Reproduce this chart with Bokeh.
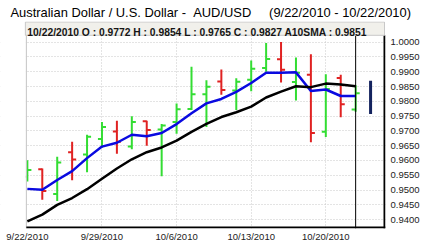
from bokeh.plotting import figure
from bokeh.models import Label, FixedTicker, Range1d, ColumnDataSource, PrintfTickFormatter
from bokeh.embed import file_html
from bokeh.resources import INLINE

# ---- data ----
dates = ["9/22/2010", "9/23/2010", "9/24/2010", "9/27/2010", "9/28/2010", "9/29/2010",
         "9/30/2010", "10/1/2010", "10/4/2010", "10/5/2010", "10/6/2010", "10/7/2010",
         "10/8/2010", "10/11/2010", "10/12/2010", "10/13/2010", "10/14/2010", "10/15/2010",
         "10/18/2010", "10/19/2010", "10/20/2010", "10/21/2010", "10/22/2010"]
opens  = [0.9545, 0.9570, 0.9487, 0.9628, 0.9620, 0.9673, 0.9698, 0.9647, 0.9733, 0.9705,
          0.9730, 0.9774, 0.9824, 0.9867, 0.9837, 0.9873, 0.9913, 0.9942, 0.9865, 0.9890,
          0.9697, 0.9879, 0.9772]
highs  = [0.9601, 0.9573, 0.9613, 0.9663, 0.9687, 0.9730, 0.9734, 0.9750, 0.9734, 0.9723,
          0.9793, 0.9917, 0.9871, 0.9908, 0.9878, 0.9938, 0.9997, 1.0001, 0.9948, 0.9959,
          0.9892, 0.9890, 0.9854]
lows   = [0.9529, 0.9467, 0.9463, 0.9533, 0.9560, 0.9643, 0.9623, 0.9638, 0.9650, 0.9547,
          0.9690, 0.9771, 0.9713, 0.9822, 0.9771, 0.9834, 0.9900, 0.9864, 0.9803, 0.9662,
          0.9679, 0.9746, 0.9765]
closes = [0.9568, 0.9497, 0.9593, 0.9603, 0.9680, 0.9713, 0.9663, 0.9730, 0.9703, 0.9718,
          0.9773, 0.9824, 0.9849, 0.9838, 0.9866, 0.9910, 0.9943, 0.9907, 0.9897, 0.9693,
          0.9842, 0.9790, 0.9827]
sma10  = [0.9394, 0.9417, 0.9450, 0.9473, 0.9503, 0.9538, 0.9573, 0.9604, 0.9628, 0.9644,
          0.9667, 0.9697, 0.9724, 0.9747, 0.9763, 0.9782, 0.9813, 0.9833, 0.9851, 0.9848,
          0.9860, 0.9857, 0.9851]
blue_ma = [0.9504, 0.9501, 0.9534, 0.9564, 0.9608, 0.9647, 0.9660, 0.9687, 0.9682, 0.9693,
           0.9723, 0.9760, 0.9793, 0.9808, 0.9832, 0.9862, 0.9897, 0.9897, 0.9898, 0.9835,
           0.9840, 0.9818, 0.9818]
marker_top, marker_bottom = 0.9870, 0.9757
x_tick_idx = [0, 5, 10, 15, 20]
x_tick_labels = ["9/22/2010", "9/29/2010", "10/6/2010", "10/13/2010", "10/20/2010"]
y_ticks = [0.9400, 0.9450, 0.9500, 0.9550, 0.9600, 0.9650, 0.9700,
           0.9750, 0.9800, 0.9850, 0.9900, 0.9950, 1.0000]
NB = "\u00a0"
title_text = ("Australian Dollar / U.S. Dollar -" + NB + NB + "AUD/USD" + NB * 5
              + "(9/22/2010 - 10/22/2010)")
header = "10/22/2010 O : 0.9772 H : 0.9854 L : 0.9765 C : 0.9827 A10SMA : 0.9851"

# ---- layout helpers (pixel -> data) ----
PX_X = 15.0      # pixels per bar
PX_Y = 3000.0    # pixels per price unit
def dx(px):
    return (px - 27) / PX_X
def dy(py):
    return 1.0 - (py - 42) / PX_Y

W, H = 422, 244
FR_TOP, FR_RIGHT, FR_BOTTOM = 21, 387, 231
x0, x1 = dx(0), dx(FR_RIGHT)
y0, y1 = dy(FR_BOTTOM), dy(FR_TOP)

p = figure(width=W, height=H, output_backend="svg", toolbar_location=None,
           x_range=Range1d(x0, x1), y_range=Range1d(y0, y1), y_axis_location="right",
           min_border_left=0, min_border_right=W - FR_RIGHT, min_border_top=FR_TOP,
           min_border_bottom=H - FR_BOTTOM, title=title_text)
p.background_fill_color = "white"
p.border_fill_color = "white"
p.outline_line_color = None

p.title.align = "left"
p.title.offset = 10
p.title.standoff = 3
p.title.text_font = "Liberation Sans"
p.title.text_font_size = "12.9px"
p.title.text_font_style = "normal"
p.title.text_color = "black"

p.xaxis.ticker = FixedTicker(ticks=x_tick_idx)
p.xaxis.major_label_overrides = {i: l for i, l in zip(x_tick_idx, x_tick_labels)}
p.xaxis.axis_line_color = None
p.xaxis.major_tick_out = 0
p.xaxis.major_tick_in = 0
p.xaxis.minor_tick_line_color = None
p.xaxis.major_label_standoff = 2
p.xaxis.major_label_text_font = "Liberation Sans"
p.xaxis.major_label_text_font_size = "9.5px"
p.xaxis.major_label_text_color = "#222222"

p.yaxis.ticker = FixedTicker(ticks=y_ticks)
p.yaxis.formatter = PrintfTickFormatter(format="%.4f")
p.yaxis.axis_line_color = None
p.yaxis.major_tick_out = 0
p.yaxis.major_tick_in = 0
p.yaxis.minor_tick_line_color = None
p.yaxis.major_label_standoff = 5
p.yaxis.major_label_text_font = "Liberation Sans"
p.yaxis.major_label_text_font_size = "9.5px"
p.yaxis.major_label_text_color = "#222222"

p.xgrid.ticker = FixedTicker(ticks=x_tick_idx[1:])
for g in (p.xgrid, p.ygrid):
    g.grid_line_color = "#c8c8c8"
    g.grid_line_dash = "1 2"
    g.grid_line_width = 1

# ---- OHLC bars ----
xs = list(range(len(dates)))
colors = ["#33dd33" if c >= o else "#e02222" for o, c in zip(opens, closes)]
src = ColumnDataSource(dict(
    x=xs, xl=[x - 0.27 for x in xs], xr=[x + 0.27 for x in xs],
    o=opens, h=highs, l=lows, c=closes, color=colors))
p.segment(x0="x", x1="x", y0="l", y1="h", line_color="color", line_width=2, source=src)
p.segment(x0="xl", x1="x", y0="o", y1="o", line_color="color", line_width=2, source=src)
p.segment(x0="x", x1="xr", y0="c", y1="c", line_color="color", line_width=2, source=src)

# ---- indicator lines ----
p.line(xs, blue_ma, line_color="#0a0ae0", line_width=2.5)
p.line(xs, sma10, line_color="black", line_width=2.5)

# cursor line at the last bar and navy marker
last = xs[-1]
p.segment(x0=[last], x1=[last], y0=[y0], y1=[dy(30)], line_color="black", line_width=1)
p.segment(x0=[last + 1], x1=[last + 1], y0=[marker_bottom], y1=[marker_top],
          line_color="#14235e", line_width=3)

# white left strip
p.quad(left=[x0 - 1], right=[dx(25.5)], top=[y1 + 0.01], bottom=[y0 - 0.01],
       fill_color="white", line_color=None)

# frame borders
p.segment(x0=[dx(26)], x1=[dx(26)], y0=[y0], y1=[dy(35)], line_color="#c4c4c4", line_width=1)
p.segment(x0=[dx(386)], x1=[dx(386)], y0=[y0], y1=[dy(35)], line_color="black", line_width=2)
p.segment(x0=[dx(26)], x1=[x1], y0=[dy(230)], y1=[dy(230)], line_color="black", line_width=2)

# header box
p.quad(left=[dx(25)], right=[dx(386)], top=[dy(21.5)], bottom=[dy(35)],
       fill_color="#f1f0eb", line_color="#c8c8c8", line_width=1)
p.add_layout(Label(x=dx(27), y=dy(32.3), text=header, text_font="Liberation Sans",
                   text_font_size="10.3px", text_font_style="bold", text_color="#151515",
                   text_baseline="alphabetic"))

open("out.html", "w").write(file_html(p, INLINE))
